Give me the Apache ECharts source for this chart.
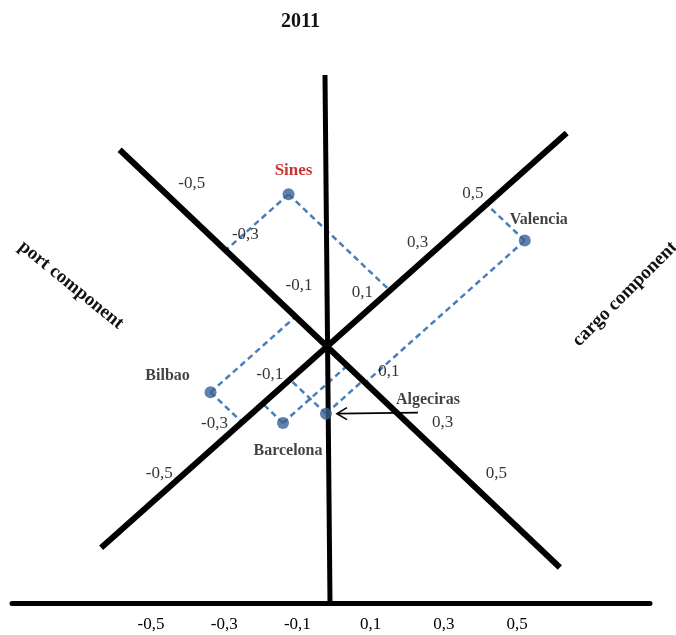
<!DOCTYPE html>
<html>
<head>
<meta charset="utf-8">
<script src="https://cdn.jsdelivr.net/npm/echarts@6/dist/echarts.min.js"></script>
<style>
html,body{margin:0;padding:0;background:#fff}
#chart{width:676px;height:635px}
</style>
</head>
<body>
<div id="chart"></div>
<script>
// ---------------- data ----------------
const ports = ['Sines', 'Valencia', 'Bilbao', 'Barcelona', 'Algeciras'];
const portComponent = [-0.31, 0.085, -0.07, 0.045, 0.08];
const cargoComponent = [0.16, 0.51, -0.24, -0.165, -0.08];
const bottomTicks = [-0.5, -0.3, -0.1, 0.1, 0.3, 0.5];
const portTicks = [-0.5, -0.3, -0.1, 0.1, 0.3, 0.5];
const cargoTicks = [-0.5, -0.3, -0.1, 0.1, 0.3, 0.5];
const portAxisRange = [-0.705, 0.80];
const cargoAxisRange = [-0.75, 0.80];

// ---------------- layout / scales ----------------
const W = 676, H = 635;
const PX_PER_UNIT = 366;      // bottom axis: px per unit
const ZERO_PX = 334;          // bottom axis zero (px from left)
const AXIS_Y_PX = 603;        // bottom axis line (px from top)
const GRID = {left: 12, right: 26, top: 0, bottom: H - AXIS_Y_PX};
const toUnits = px => px / PX_PER_UNIT;
const xMin = toUnits(GRID.left - ZERO_PX);
const xMax = toUnits(W - GRID.right - ZERO_PX);
const yMax = toUnits(AXIS_Y_PX - GRID.top);

// oblique (rotated) component axes, crossing point and directions
const ORIGIN = [toUnits(327 - ZERO_PX), toUnits(AXIS_Y_PX - 346.5)];
const PORT_ANGLE = -43.5 * Math.PI / 180;
const CARGO_ANGLE = 41.7 * Math.PI / 180;
const UP = [Math.cos(PORT_ANGLE), Math.sin(PORT_ANGLE)];
const UC = [Math.cos(CARGO_ANGLE), Math.sin(CARGO_ANGLE)];
// distance along a component axis (px) for a value
function diagPx(v) {
  const a = Math.abs(v);
  return Math.sign(v) * (a <= 0.1 ? a * 620 : 62 + (a - 0.1) * 370);
}
function plane(p, c) {
  const dp = toUnits(diagPx(p)), dc = toUnits(diagPx(c));
  return [ORIGIN[0] + dp * UP[0] + dc * UC[0], ORIGIN[1] + dp * UP[1] + dc * UC[1]];
}
const VERTICAL_AXIS = [[toUnits(325 - ZERO_PX), toUnits(AXIS_Y_PX - 75)], [toUnits(330 - ZERO_PX), 0]];

const fmt = v => String(v).replace('.', ',');
const SERIF = '"Liberation Serif", "Times New Roman", serif';
const TEXT = '#000';

const LABEL_OFFSET = {
  Sines: [5, -24], Valencia: [14, -21], Bilbao: [-43, -16],
  Barcelona: [5, 28], Algeciras: [102, -14]
};

// ---------------- series data built from arrays ----------------
const axisLinesData = [
  {coords: [plane(portAxisRange[0], 0), plane(portAxisRange[1], 0)]},
  {coords: [plane(0, cargoAxisRange[0]), plane(0, cargoAxisRange[1])]},
  {coords: VERTICAL_AXIS, lineStyle: {width: 5}}
];
const guideData = [];
ports.forEach((n, i) => {
  const p = portComponent[i], c = cargoComponent[i];
  guideData.push({coords: [plane(p, c), plane(p, 0)]});
  guideData.push({coords: [plane(p, c), plane(0, c)]});
});
const pointData = ports.map((n, i) => ({
  name: n,
  value: plane(portComponent[i], cargoComponent[i]),
  label: {
    offset: LABEL_OFFSET[n],
    color: n === 'Sines' ? '#C00000' : '#111',
    fontSize: n === 'Sines' ? 17 : 16
  }
}));
const portTickData = portTicks.map(v => ({name: fmt(v), value: plane(v, 0)}));
const cargoTickData = cargoTicks.map(v => ({name: fmt(v), value: plane(0, v)}));
const algIdx = ports.indexOf('Algeciras');

const tickLabel = {
  show: true, position: 'inside', formatter: '{b}',
  fontFamily: SERIF, fontSize: 17, color: TEXT,
  textBorderWidth: 0, textShadowBlur: 0
};

const chart = echarts.init(document.getElementById('chart'));
chart.setOption({
  animation: false,
  backgroundColor: '#fff',
  title: {
    text: '2011', left: 276, top: 7,
    textStyle: {fontFamily: SERIF, fontWeight: 'bold', fontSize: 20, color: '#111'}
  },
  grid: Object.assign({containLabel: false, outerBoundsMode: 'none'}, GRID),
  xAxis: {
    type: 'value', min: xMin, max: xMax,
    axisLine: {show: true, onZero: false, lineStyle: {color: '#000', width: 5}},
    axisTick: {show: false},
    splitLine: {show: false},
    axisLabel: {
      customValues: bottomTicks, formatter: v => fmt(Math.round(v * 10) / 10),
      fontFamily: SERIF, fontSize: 17, color: TEXT, margin: 13
    }
  },
  yAxis: {type: 'value', min: 0, max: yMax, show: false},
  graphic: [
    {type: 'text', x: 71, y: 285, rotation: -39 * Math.PI / 180,
     style: {text: 'port component', font: 'bold 19px ' + SERIF, fill: '#111',
             align: 'center', verticalAlign: 'middle', textAlign: 'center', textVerticalAlign: 'middle'}},
    {type: 'text', x: 625, y: 294, rotation: 45 * Math.PI / 180,
     style: {text: 'cargo component', font: 'bold 19px ' + SERIF, fill: '#111',
             align: 'center', verticalAlign: 'middle', textAlign: 'center', textVerticalAlign: 'middle'}}
  ],
  series: [
    {
      type: 'lines', coordinateSystem: 'cartesian2d', clip: false, z: 2,
      lineStyle: {color: '#4A7EBB', width: 2.5, type: [6, 4], opacity: 1},
      data: guideData
    },
    {
      type: 'lines', coordinateSystem: 'cartesian2d', clip: false, z: 3,
      lineStyle: {color: '#000', width: 6, opacity: 1, cap: 'butt'},
      data: axisLinesData
    },
    {
      type: 'scatter', z: 4, symbolSize: 0, silent: true,
      label: Object.assign({offset: [17, -18]}, tickLabel),
      data: portTickData
    },
    {
      type: 'scatter', z: 4, symbolSize: 0, silent: true,
      label: Object.assign({offset: [-11, -13]}, tickLabel),
      data: cargoTickData
    },
    {
      type: 'scatter', z: 5, symbol: 'circle', symbolSize: 12,
      itemStyle: {color: '#3A6295'},
      label: {show: true, position: 'inside', formatter: '{b}',
              fontFamily: SERIF, fontWeight: 'bold', textBorderWidth: 0, textShadowBlur: 0},
      data: pointData
    },
    {
      type: 'custom', coordinateSystem: 'cartesian2d', z: 6, silent: true,
      data: [plane(portComponent[algIdx], cargoComponent[algIdx])],
      renderItem: function (params, api) {
        const p = api.coord([api.value(0), api.value(1)]);
        return {
          type: 'group',
          children: [
            {type: 'line', shape: {x1: p[0] + 11, y1: p[1], x2: p[0] + 92, y2: p[1] - 1},
             style: {stroke: '#000', lineWidth: 1.6}},
            {type: 'polyline', shape: {points: [[p[0] + 21, p[1] - 6], [p[0] + 11, p[1]], [p[0] + 21, p[1] + 6]]},
             style: {stroke: '#000', lineWidth: 1.6, fill: null}}
          ]
        };
      }
    }
  ]
});
</script>
</body>
</html>
